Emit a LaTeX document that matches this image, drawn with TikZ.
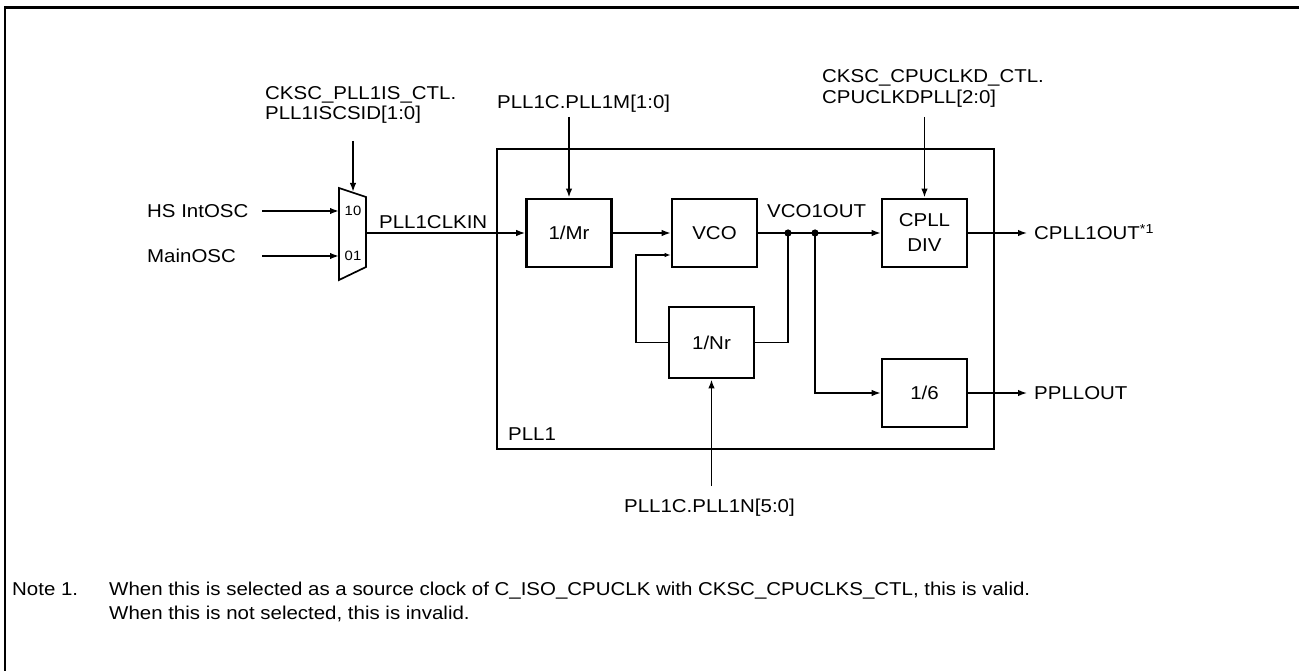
\documentclass[tikz,border=0pt]{standalone}
\usepackage{fontspec}
\setmainfont{Liberation Sans}[FakeStretch=1.1]
\usetikzlibrary{arrows.meta}
\begin{document}
\begin{tikzpicture}[x=1pt,y=-1pt,
  lbl/.style={inner sep=0pt, anchor=base west, font=\fontsize{18.6}{20}\selectfont},
  small/.style={inner sep=0pt, anchor=center, font=\fontsize{13.5}{14}\selectfont},
  blk/.style={draw, line width=2.7pt, minimum width=85pt, minimum height=68pt, inner sep=0pt,
              font=\fontsize{18.6}{25}\selectfont, align=center},
  wire/.style={line width=1.4pt},
  arr/.style={wire, -{Latex[length=9pt,width=6.5pt]}},
  arrs/.style={wire, -{Latex[length=6pt,width=4.5pt]}},
  ctl/.style={line width=1.8pt, -{Latex[length=9pt,width=6.5pt]}}]
\useasboundingbox (0,0) rectangle (1299,671);
% outer frame
\draw[line width=2.5pt] (5,671) -- (5,7.5) -- (1299,7.5);
% PLL1 frame
\node[draw, line width=2.8pt, minimum width=497pt, minimum height=300pt, inner sep=0pt] (pll) at (745.5,299) {};
\node[lbl] (pllname) at (508,440) {PLL1};
% blocks
\node[blk] (mr) at (569,233) {1/Mr};
\node[blk] (vco) at (714.5,233) {VCO};
\node[blk] (cpll) at (924.5,233) {CPLL\\DIV};
\node[blk, minimum height=71pt] (nr) at (711.5,342.5) {1/Nr};
\node[blk] (div6) at (924.5,393) {1/6};
% mux
\draw[line width=1.7pt] (339,188) -- (366,197) -- (366,267) -- (339,280) -- cycle;
\coordinate (muxA) at (339,211);
\coordinate (muxB) at (339,256);
\coordinate (muxO) at (366,233);
\coordinate (muxT) at (353,192);
\node[small] (sel10) at (353,211) {10};
\node[small] (sel01) at (353,256) {01};
% inputs
\node[lbl] (hs) at (147,217.7) {HS IntOSC};
\node[lbl] (mo) at (147,262.7) {MainOSC};
\coordinate (hsS) at (262,211);
\coordinate (moS) at (262,256);
\draw[ctl] (hsS) -- (muxA);
\draw[ctl] (moS) -- (muxB);
% select
\node[lbl] (selL1) at (265,99.7) {CKSC\_PLL1IS\_CTL.};
\node[lbl] (selL2) at (265,120) {PLL1ISCSID[1:0]};
\coordinate (selS) at (353,141);
\draw[ctl] (selS) -- (muxT);
% PLL1CLKIN
\draw[arr] (muxO) -- (mr.west);
\node[lbl] (clkin) at (379,229) {PLL1CLKIN};
% PLL1M
\node[lbl] (mlbl) at (497,108.7) {PLL1C.PLL1M[1:0]};
\coordinate (mS) at (569,117);
\draw[ctl] (mS) -- (mr.north);
% Mr -> VCO
\draw[arr] (mr.east) -- (vco.west);
% VCO out
\coordinate (d1) at (788,233);
\coordinate (d2) at (815,233);
\node[lbl] (vcoout) at (767,217.7) {VCO1OUT};
\draw[wire] (vco.east) -- (d2);
\draw[arr] (d2) -- (cpll.west);
\fill (d1) circle (3.6pt);
\fill (d2) circle (3.6pt);
% feedback
\draw[wire] (d1) |- (nr.east);
\coordinate (fb) at (636,255);
\draw[arrs] (nr.west) -| (fb) -- (fb -| vco.west);
% PLL1N
\coordinate (nS) at (711.5,486);
\draw[ctl] (nS) -- (nr.south);
\node[lbl, anchor=base] (nlbl) at (709.5,512.7) {PLL1C.PLL1N[5:0]};
% to 1/6
\draw[arr] (d2) |- (div6.west);
% CPLL control
\node[lbl] (cdl1) at (822,82.7) {CKSC\_CPUCLKD\_CTL.};
\node[lbl] (cdl2) at (822,103.7) {CPUCLKDPLL[2:0]};
\coordinate (cS) at (924.5,117);
\draw[ctl] (cS) -- (cpll.north);
% outputs
\coordinate (oA) at (1027,233);
\coordinate (oB) at (1027,393);
\draw[arr] (cpll.east) -- (oA);
\draw[arr] (div6.east) -- (oB);
\node[lbl] (cout) at (1034,239.7) {CPLL1OUT\textsuperscript{*1}};
\node[lbl] (pout) at (1034,399.7) {PPLLOUT};
% note
\node[lbl] (note) at (12,595.7) {Note 1.};
\node[lbl] (nt1) at (109,595.7) {When this is selected as a source clock of C\_ISO\_CPUCLK with CKSC\_CPUCLKS\_CTL, this is valid.};
\node[lbl] (nt2) at (109,619.7) {When this is not selected, this is invalid.};
\end{tikzpicture}
\end{document}
